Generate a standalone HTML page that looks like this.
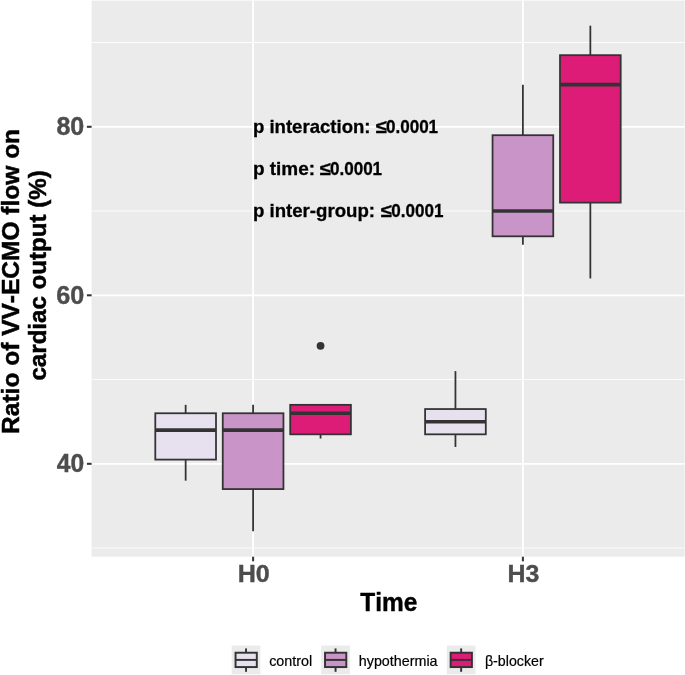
<!DOCTYPE html>
<html lang="en"><head><meta charset="utf-8"><title>Ratio of VV-ECMO flow on cardiac output</title>
<style>
html,body{margin:0;padding:0;background:#fff;}
body{width:685px;height:675px;overflow:hidden;}
svg{display:block;font-family:"Liberation Sans",Arial,Helvetica,sans-serif;font-kerning:none;}
</style></head><body>
<svg width="685" height="675" viewBox="0 0 685 675">
<rect x="0" y="0" width="685" height="675" fill="#fff"/>
<rect x="91.6" y="0.6" width="593.00" height="556.10" fill="#EBEBEB"/>
<line x1="91.6" x2="684.6" y1="548.08" y2="548.08" stroke="#fff" stroke-width="0.89"/>
<line x1="91.6" x2="684.6" y1="379.56" y2="379.56" stroke="#fff" stroke-width="0.89"/>
<line x1="91.6" x2="684.6" y1="211.04" y2="211.04" stroke="#fff" stroke-width="0.89"/>
<line x1="91.6" x2="684.6" y1="42.52" y2="42.52" stroke="#fff" stroke-width="0.89"/>
<line x1="91.6" x2="684.6" y1="463.82" y2="463.82" stroke="#fff" stroke-width="1.78"/>
<line x1="91.6" x2="684.6" y1="295.30" y2="295.30" stroke="#fff" stroke-width="1.78"/>
<line x1="91.6" x2="684.6" y1="126.78" y2="126.78" stroke="#fff" stroke-width="1.78"/>
<line x1="253.1" x2="253.1" y1="0.6" y2="556.7" stroke="#fff" stroke-width="1.78"/>
<line x1="522.9" x2="522.9" y1="0.6" y2="556.7" stroke="#fff" stroke-width="1.78"/>
<line x1="185.65" x2="185.65" y1="404.84" y2="413.26" stroke="#333333" stroke-width="1.78"/>
<line x1="185.65" x2="185.65" y1="459.61" y2="480.67" stroke="#333333" stroke-width="1.78"/>
<rect x="155.30" y="413.26" width="60.70" height="46.34" fill="#E7E1EF" stroke="#333333" stroke-width="1.78" stroke-linejoin="miter"/>
<line x1="155.30" x2="216.00" y1="430.12" y2="430.12" stroke="#333333" stroke-width="3.56"/>
<line x1="253.10" x2="253.10" y1="404.84" y2="413.26" stroke="#333333" stroke-width="1.78"/>
<line x1="253.10" x2="253.10" y1="489.10" y2="531.23" stroke="#333333" stroke-width="1.78"/>
<rect x="222.75" y="413.26" width="60.70" height="75.83" fill="#C994C7" stroke="#333333" stroke-width="1.78" stroke-linejoin="miter"/>
<line x1="222.75" x2="283.45" y1="430.12" y2="430.12" stroke="#333333" stroke-width="3.56"/>
<circle cx="320.55" cy="345.86" r="3.9" fill="#333333"/>
<line x1="320.55" x2="320.55" y1="434.33" y2="438.54" stroke="#333333" stroke-width="1.78"/>
<rect x="290.20" y="404.84" width="60.70" height="29.49" fill="#DD1C77" stroke="#333333" stroke-width="1.78" stroke-linejoin="miter"/>
<line x1="290.20" x2="350.90" y1="413.26" y2="413.26" stroke="#333333" stroke-width="3.56"/>
<line x1="455.45" x2="455.45" y1="371.13" y2="409.05" stroke="#333333" stroke-width="1.78"/>
<line x1="455.45" x2="455.45" y1="434.33" y2="446.97" stroke="#333333" stroke-width="1.78"/>
<rect x="425.10" y="409.05" width="60.70" height="25.28" fill="#E7E1EF" stroke="#333333" stroke-width="1.78" stroke-linejoin="miter"/>
<line x1="425.10" x2="485.80" y1="421.69" y2="421.69" stroke="#333333" stroke-width="3.56"/>
<line x1="522.90" x2="522.90" y1="84.65" y2="135.21" stroke="#333333" stroke-width="1.78"/>
<line x1="522.90" x2="522.90" y1="236.32" y2="244.74" stroke="#333333" stroke-width="1.78"/>
<rect x="492.55" y="135.21" width="60.70" height="101.11" fill="#C994C7" stroke="#333333" stroke-width="1.78" stroke-linejoin="miter"/>
<line x1="492.55" x2="553.25" y1="211.04" y2="211.04" stroke="#333333" stroke-width="3.56"/>
<line x1="590.35" x2="590.35" y1="25.67" y2="55.16" stroke="#333333" stroke-width="1.78"/>
<line x1="590.35" x2="590.35" y1="202.61" y2="278.45" stroke="#333333" stroke-width="1.78"/>
<rect x="560.00" y="55.16" width="60.70" height="147.45" fill="#DD1C77" stroke="#333333" stroke-width="1.78" stroke-linejoin="miter"/>
<line x1="560.00" x2="620.70" y1="84.65" y2="84.65" stroke="#333333" stroke-width="3.56"/>
<text x="252.92" y="132.68" font-size="18.5" font-weight="bold" fill="#000" stroke="#000" stroke-width="0.3" textLength="117.62" lengthAdjust="spacingAndGlyphs">p interaction:</text>
<text x="375.56" y="132.68" font-size="18.5" font-weight="bold" fill="#000" stroke="#000" stroke-width="0.3" textLength="11.14" lengthAdjust="spacingAndGlyphs">≤</text>
<text x="385.96" y="132.68" font-size="18.5" font-weight="bold" fill="#000" stroke="#000" stroke-width="0.3" textLength="52.16" lengthAdjust="spacingAndGlyphs">0.0001</text>
<text x="252.90" y="174.81" font-size="18.5" font-weight="bold" fill="#000" stroke="#000" stroke-width="0.3" textLength="62.15" lengthAdjust="spacingAndGlyphs">p time:</text>
<text x="319.56" y="174.81" font-size="18.5" font-weight="bold" fill="#000" stroke="#000" stroke-width="0.3" textLength="11.14" lengthAdjust="spacingAndGlyphs">≤</text>
<text x="329.96" y="174.81" font-size="18.5" font-weight="bold" fill="#000" stroke="#000" stroke-width="0.3" textLength="52.16" lengthAdjust="spacingAndGlyphs">0.0001</text>
<text x="252.92" y="216.94" font-size="18.5" font-weight="bold" fill="#000" stroke="#000" stroke-width="0.3" textLength="122.15" lengthAdjust="spacingAndGlyphs">p inter-group:</text>
<text x="380.46" y="216.94" font-size="18.5" font-weight="bold" fill="#000" stroke="#000" stroke-width="0.3" textLength="11.14" lengthAdjust="spacingAndGlyphs">≤</text>
<text x="391.26" y="216.94" font-size="18.5" font-weight="bold" fill="#000" stroke="#000" stroke-width="0.3" textLength="52.16" lengthAdjust="spacingAndGlyphs">0.0001</text>
<line x1="86.90" x2="91.6" y1="463.82" y2="463.82" stroke="#333333" stroke-width="2.05"/>
<text x="56.82" y="472.47" font-size="25" font-weight="bold" fill="#4D4D4D" stroke="#4D4D4D" stroke-width="0.4" textLength="27.43" lengthAdjust="spacingAndGlyphs">40</text>
<line x1="86.90" x2="91.6" y1="295.30" y2="295.30" stroke="#333333" stroke-width="2.05"/>
<text x="56.27" y="303.95" font-size="25" font-weight="bold" fill="#4D4D4D" stroke="#4D4D4D" stroke-width="0.4" textLength="28.00" lengthAdjust="spacingAndGlyphs">60</text>
<line x1="86.90" x2="91.6" y1="126.78" y2="126.78" stroke="#333333" stroke-width="2.05"/>
<text x="56.40" y="135.43" font-size="25" font-weight="bold" fill="#4D4D4D" stroke="#4D4D4D" stroke-width="0.4" textLength="27.87" lengthAdjust="spacingAndGlyphs">80</text>
<line x1="253.1" x2="253.1" y1="556.7" y2="561.30" stroke="#333333" stroke-width="2.05"/>
<text x="237.72" y="582.10" font-size="24.8" font-weight="bold" fill="#4D4D4D" stroke="#4D4D4D" stroke-width="0.4" textLength="32.08" lengthAdjust="spacingAndGlyphs">H0</text>
<line x1="522.9" x2="522.9" y1="556.7" y2="561.30" stroke="#333333" stroke-width="2.05"/>
<text x="507.53" y="582.10" font-size="24.8" font-weight="bold" fill="#4D4D4D" stroke="#4D4D4D" stroke-width="0.4" textLength="31.85" lengthAdjust="spacingAndGlyphs">H3</text>
<text x="360.22" y="611.25" font-size="25" font-weight="bold" fill="#000" stroke="#000" stroke-width="0.4" textLength="57.05" lengthAdjust="spacingAndGlyphs">Time</text>
<text x="-152.54" y="0.00" font-size="24.6" font-weight="bold" fill="#000" stroke="#000" stroke-width="0.5" textLength="304.95" lengthAdjust="spacingAndGlyphs" transform="translate(18.5,281.35) rotate(-90)">Ratio of VV-ECMO flow on</text>
<text x="-105.08" y="0.00" font-size="24.6" font-weight="bold" fill="#000" stroke="#000" stroke-width="0.5" textLength="210.41" lengthAdjust="spacingAndGlyphs" transform="translate(45.8,275.5) rotate(-90)">cardiac output (%)</text>
<rect x="231.7" y="645.55" width="28.7" height="28.7" fill="#EBEBEB"/>
<line x1="246.05" x2="246.05" y1="648.42" y2="652.72" stroke="#333333" stroke-width="1.95"/>
<line x1="246.05" x2="246.05" y1="667.07" y2="671.81" stroke="#333333" stroke-width="1.95"/>
<rect x="235.54" y="652.72" width="21.27" height="14.35" fill="#E7E1EF" stroke="#333333" stroke-width="1.95"/>
<line x1="235.54" x2="256.81" y1="659.90" y2="659.90" stroke="#333333" stroke-width="1.95"/>
<text x="269.17" y="665.80" font-size="14.3" font-weight="normal" fill="#000" stroke="#000" stroke-width="0.2" textLength="43.08" lengthAdjust="spacingAndGlyphs">control</text>
<rect x="321.2" y="645.55" width="28.7" height="28.7" fill="#EBEBEB"/>
<line x1="335.55" x2="335.55" y1="648.42" y2="652.72" stroke="#333333" stroke-width="1.95"/>
<line x1="335.55" x2="335.55" y1="667.07" y2="671.81" stroke="#333333" stroke-width="1.95"/>
<rect x="325.04" y="652.72" width="21.27" height="14.35" fill="#C994C7" stroke="#333333" stroke-width="1.95"/>
<line x1="325.04" x2="346.31" y1="659.90" y2="659.90" stroke="#333333" stroke-width="1.95"/>
<text x="358.81" y="665.80" font-size="14.3" font-weight="normal" fill="#000" stroke="#000" stroke-width="0.2" textLength="78.76" lengthAdjust="spacingAndGlyphs">hypothermia</text>
<rect x="446.8" y="645.55" width="28.7" height="28.7" fill="#EBEBEB"/>
<line x1="461.15" x2="461.15" y1="648.42" y2="652.72" stroke="#333333" stroke-width="1.95"/>
<line x1="461.15" x2="461.15" y1="667.07" y2="671.81" stroke="#333333" stroke-width="1.95"/>
<rect x="450.64" y="652.72" width="21.27" height="14.35" fill="#DD1C77" stroke="#333333" stroke-width="1.95"/>
<line x1="450.64" x2="471.91" y1="659.90" y2="659.90" stroke="#333333" stroke-width="1.95"/>
<text x="484.92" y="665.80" font-size="14.3" font-weight="normal" fill="#000" stroke="#000" stroke-width="0.2" textLength="58.80" lengthAdjust="spacingAndGlyphs">β-blocker</text>
</svg>
</body></html>
